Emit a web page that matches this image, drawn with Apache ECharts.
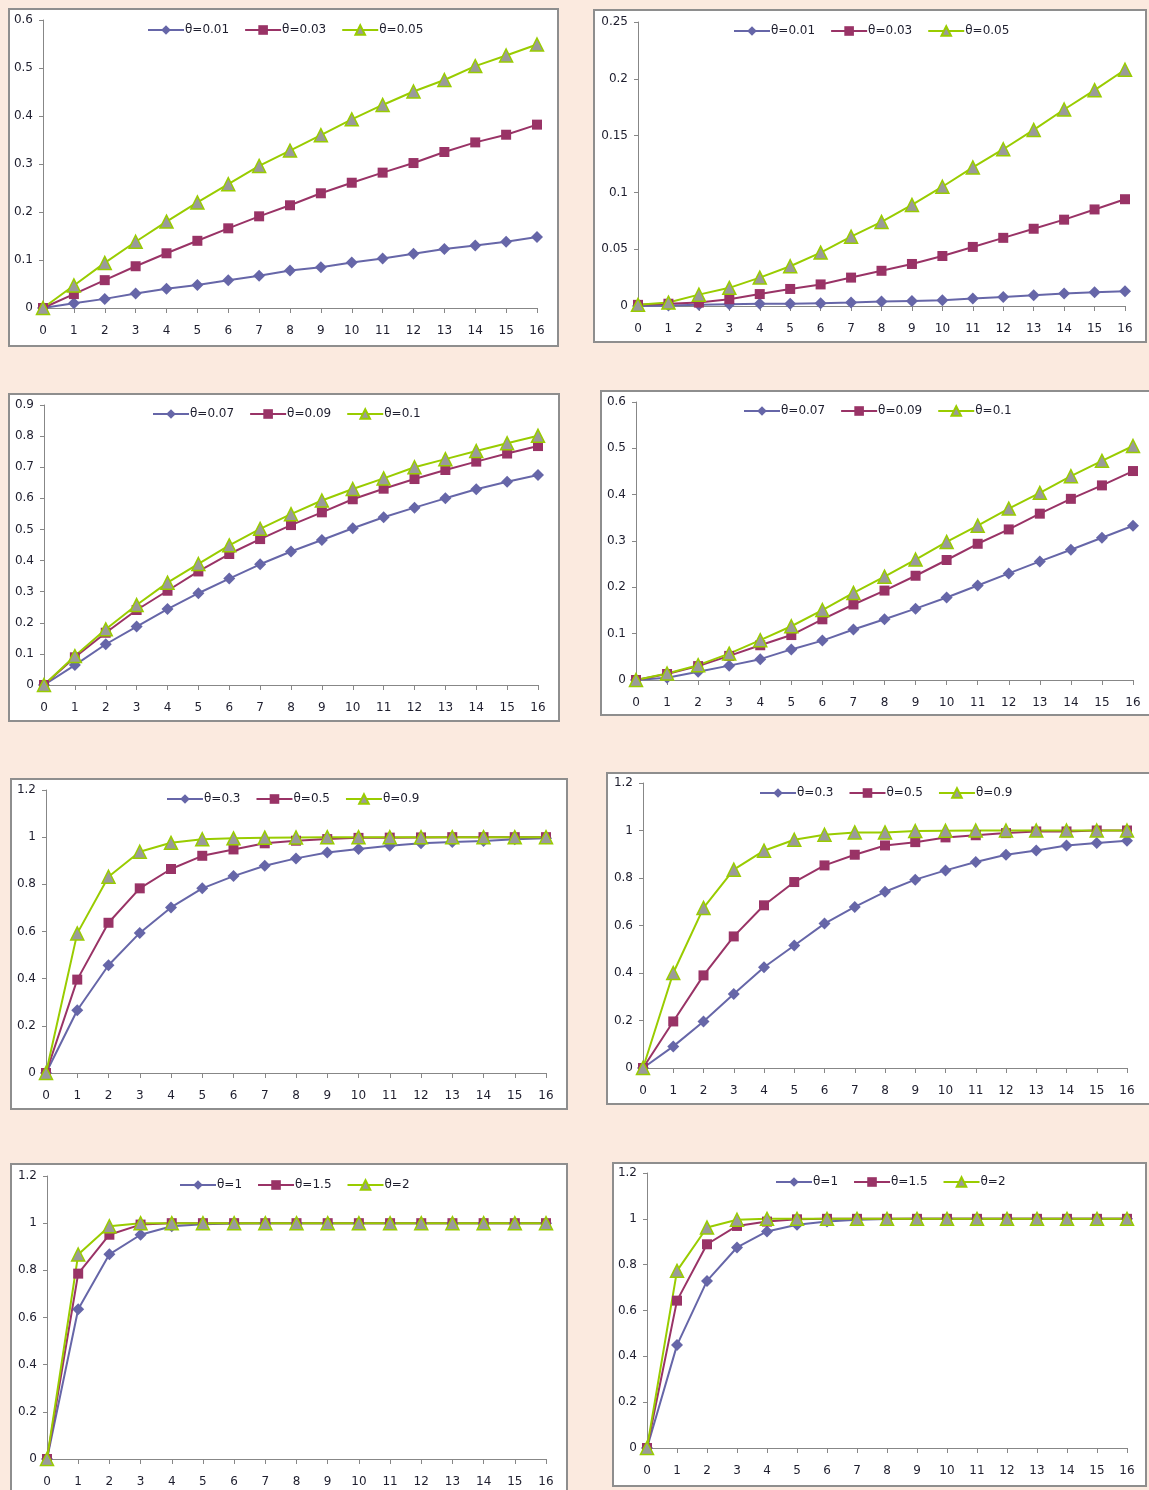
<!DOCTYPE html>
<html>
<head>
<meta charset="utf-8">
<script src="https://cdn.jsdelivr.net/npm/echarts@6/dist/echarts.min.js"></script>
<style>
  html, body { margin: 0; padding: 0; background: #fbeadf; }
  body { width: 1149px; height: 1490px; position: relative; overflow: hidden; }
  .panel { position: absolute; background: #fff; border: 2px solid #8e8e8e; box-sizing: border-box; }
</style>
</head>
<body>
<div id="charts"></div>
<script>
  // x categories (same for every panel)
  var xLabels = ['0','1','2','3','4','5','6','7','8','9','10','11','12','13','14','15','16'];

  // panel 1 (top left)
  var p1Names = ['θ=0.01', 'θ=0.03', 'θ=0.05'];
  var p1A = [0, 0.010, 0.019, 0.030, 0.040, 0.048, 0.058, 0.067, 0.078, 0.085, 0.095, 0.103, 0.113, 0.123, 0.130, 0.138, 0.148];
  var p1B = [0, 0.029, 0.058, 0.087, 0.114, 0.140, 0.166, 0.191, 0.214, 0.239, 0.261, 0.282, 0.302, 0.325, 0.345, 0.361, 0.382];
  var p1C = [0, 0.047, 0.094, 0.138, 0.180, 0.220, 0.258, 0.296, 0.328, 0.360, 0.393, 0.423, 0.451, 0.475, 0.504, 0.526, 0.549];

  // panel 2 (top right)
  var p2Names = ['θ=0.01', 'θ=0.03', 'θ=0.05'];
  var p2A = [0, 0.0005, 0.001, 0.0015, 0.002, 0.002, 0.0025, 0.003, 0.004, 0.0045, 0.005, 0.0065, 0.008, 0.0095, 0.011, 0.012, 0.013];
  var p2B = [0.001, 0.002, 0.003, 0.006, 0.0105, 0.015, 0.019, 0.025, 0.031, 0.037, 0.044, 0.052, 0.060, 0.068, 0.076, 0.085, 0.094];
  var p2C = [0.001, 0.003, 0.010, 0.016, 0.025, 0.035, 0.047, 0.061, 0.074, 0.089, 0.105, 0.122, 0.138, 0.155, 0.173, 0.190, 0.208];

  // panel 3
  var p3Names = ['θ=0.07', 'θ=0.09', 'θ=0.1'];
  var p3A = [0, 0.064, 0.131, 0.188, 0.244, 0.295, 0.342, 0.388, 0.429, 0.466, 0.504, 0.539, 0.570, 0.600, 0.629, 0.653, 0.675];
  var p3B = [0, 0.089, 0.168, 0.241, 0.303, 0.365, 0.421, 0.469, 0.514, 0.555, 0.597, 0.631, 0.662, 0.691, 0.718, 0.744, 0.768];
  var p3C = [0, 0.093, 0.179, 0.257, 0.329, 0.389, 0.449, 0.502, 0.549, 0.593, 0.630, 0.664, 0.700, 0.726, 0.752, 0.777, 0.801];

  // panel 4
  var p4Names = ['θ=0.07', 'θ=0.09', 'θ=0.1'];
  var p4A = [0, 0.005, 0.018, 0.031, 0.045, 0.066, 0.085, 0.109, 0.131, 0.154, 0.178, 0.204, 0.230, 0.256, 0.281, 0.307, 0.333];
  var p4B = [0, 0.013, 0.030, 0.052, 0.075, 0.097, 0.131, 0.163, 0.193, 0.225, 0.259, 0.294, 0.325, 0.359, 0.391, 0.420, 0.451];
  var p4C = [0, 0.014, 0.032, 0.057, 0.086, 0.116, 0.151, 0.188, 0.223, 0.260, 0.298, 0.333, 0.370, 0.404, 0.440, 0.473, 0.505];

  // panel 5
  var p5Names = ['θ=0.3', 'θ=0.5', 'θ=0.9'];
  var p5A = [0, 0.266, 0.457, 0.594, 0.702, 0.783, 0.835, 0.879, 0.910, 0.935, 0.950, 0.964, 0.974, 0.979, 0.984, 0.991, 0.995];
  var p5B = [0, 0.396, 0.637, 0.783, 0.865, 0.921, 0.948, 0.974, 0.985, 0.992, 0.997, 0.998, 0.999, 1, 1, 1, 1];
  var p5C = [0, 0.592, 0.832, 0.938, 0.976, 0.991, 0.995, 0.998, 0.999, 1, 1, 1, 1, 1, 1, 1, 1];

  // panel 6
  var p6Names = ['θ=0.3', 'θ=0.5', 'θ=0.9'];
  var p6A = [0, 0.091, 0.196, 0.312, 0.424, 0.516, 0.608, 0.678, 0.742, 0.793, 0.832, 0.867, 0.898, 0.916, 0.937, 0.947, 0.957];
  var p6B = [0, 0.196, 0.390, 0.554, 0.685, 0.783, 0.853, 0.898, 0.937, 0.951, 0.971, 0.980, 0.989, 0.996, 0.996, 1, 1];
  var p6C = [0, 0.400, 0.674, 0.835, 0.915, 0.961, 0.982, 0.992, 0.992, 0.998, 0.999, 1, 1, 1, 1, 1, 1];

  // panel 7
  var p7Names = ['θ=1', 'θ=1.5', 'θ=2'];
  var p7A = [0, 0.635, 0.868, 0.951, 0.987, 0.995, 0.999, 1, 1, 1, 1, 1, 1, 1, 1, 1, 1];
  var p7B = [0, 0.786, 0.951, 0.994, 1, 1, 1, 1, 1, 1, 1, 1, 1, 1, 1, 1, 1];
  var p7C = [0, 0.867, 0.987, 1, 1, 1, 1, 1, 1, 1, 1, 1, 1, 1, 1, 1, 1];

  // panel 8
  var p8Names = ['θ=1', 'θ=1.5', 'θ=2'];
  var p8A = [0, 0.449, 0.729, 0.875, 0.945, 0.974, 0.988, 0.996, 0.999, 1, 1, 1, 1, 1, 1, 1, 1];
  var p8B = [0, 0.643, 0.889, 0.969, 0.988, 0.998, 1, 1, 1, 1, 1, 1, 1, 1, 1, 1, 1];
  var p8C = [0, 0.773, 0.962, 0.996, 1, 1, 1, 1, 1, 1, 1, 1, 1, 1, 1, 1, 1];

  // y axis ranges
  var yMax = [0.6, 0.25, 0.9, 0.6, 1.2, 1.2, 1.2, 1.2];
  var yStep = [0.1, 0.05, 0.1, 0.1, 0.2, 0.2, 0.2, 0.2];

  var panels = [
    {names: p1Names, data: [p1A, p1B, p1C]},
    {names: p2Names, data: [p2A, p2B, p2C]},
    {names: p3Names, data: [p3A, p3B, p3C]},
    {names: p4Names, data: [p4A, p4B, p4C]},
    {names: p5Names, data: [p5A, p5B, p5C]},
    {names: p6Names, data: [p6A, p6B, p6C]},
    {names: p7Names, data: [p7A, p7B, p7C]},
    {names: p8Names, data: [p8A, p8B, p8C]}
  ];

  // box: left, top, width, height ; grid: left, top, right, bottom ; legend: left, top
  var layout = [
    {box: [8, 8, 551, 339],    grid: [33, 10, 20, 37], legend: [132, 9]},
    {box: [593, 9, 554, 334],  grid: [43, 11, 20, 35], legend: [133, 9]},
    {box: [8, 393, 552, 329],  grid: [34, 10, 20, 35], legend: [137, 8]},
    {box: [600, 390, 552, 326],grid: [34, 10, 17, 34], legend: [136, 8]},
    {box: [10, 778, 558, 332], grid: [34, 10, 20, 35], legend: [149, 8]},
    {box: [606, 772, 546, 333],grid: [35, 9, 23, 35],  legend: [146, 8]},
    {box: [10, 1163, 558, 337],grid: [35, 11, 20, 39], legend: [162, 9]},
    {box: [612, 1162, 535, 325],grid: [33, 9, 18, 37], legend: [156, 7]}
  ];

  var lineColors = ['#6666a8', '#993366', '#99cc00'];
  var symbols = ['diamond', 'rect', 'triangle'];
  var symbolSizes = [12, 10, 13];
  var textColor = '#1e1e2e';
  var font = 'DejaVu Sans';

  var holder = document.getElementById('charts');
  panels.forEach(function (p, i) {
    var L = layout[i];
    var div = document.createElement('div');
    div.className = 'panel';
    div.style.left = L.box[0] + 'px';
    div.style.top = L.box[1] + 'px';
    div.style.width = L.box[2] + 'px';
    div.style.height = L.box[3] + 'px';
    holder.appendChild(div);

    var myChart = echarts.init(div, null, {renderer: 'canvas'});
    var series = p.data.map(function (vals, k) {
      return {
        name: p.names[k],
        type: 'line',
        data: vals,
        symbol: symbols[k],
        symbolSize: symbolSizes[k],
        showAllSymbol: true,
        lineStyle: {color: lineColors[k], width: 2},
        itemStyle: k == 2
          ? {color: '#9a9a9a', borderColor: '#99cc00', borderWidth: 1.5}
          : {color: lineColors[k], borderWidth: 0},
        emphasis: {disabled: true}
      };
    });

    myChart.setOption({
      animation: false,
      backgroundColor: '#fff',
      legend: {
        data: p.names,
        left: L.legend[0],
        top: L.legend[1],
        itemWidth: 36,
        itemHeight: 12,
        itemGap: 15,
        textStyle: {fontFamily: font, fontSize: 12, color: textColor, padding: [0, 0, 0, -4]}
      },
      grid: {left: L.grid[0], top: L.grid[1], right: L.grid[2], bottom: L.grid[3], containLabel: false},
      xAxis: {
        type: 'category',
        data: xLabels,
        boundaryGap: false,
        axisLine: {lineStyle: {color: '#878787', width: 1}},
        axisTick: {show: true, length: 5, lineStyle: {color: '#878787'}},
        axisLabel: {fontFamily: font, fontSize: 12, color: textColor, margin: 17, interval: 0}
      },
      yAxis: {
        type: 'value',
        min: 0,
        max: yMax[i],
        interval: yStep[i],
        axisLine: {show: true, lineStyle: {color: '#878787', width: 1}},
        axisTick: {show: true, length: 4, lineStyle: {color: '#878787'}},
        splitLine: {show: false},
        axisLabel: {fontFamily: font, fontSize: 12, color: textColor, margin: 10}
      },
      series: series
    });
  });
</script>
</body>
</html>
